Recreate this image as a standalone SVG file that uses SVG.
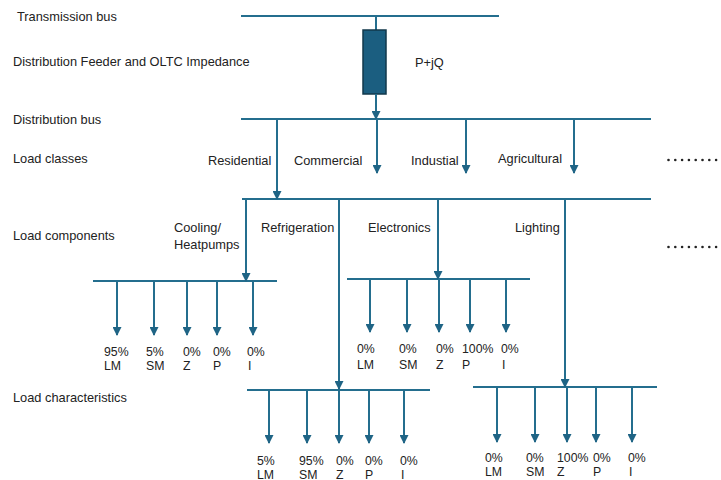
<svg xmlns="http://www.w3.org/2000/svg" width="721" height="480" viewBox="0 0 721 480">
<style>
text{font-family:"Liberation Sans",Arial,sans-serif;font-size:12.8px;fill:#222}
.v text{font-size:12.3px}
.bus{stroke:#246E8E;stroke-width:2;fill:none}
.ar{stroke:#246E8E;stroke-width:2;fill:none;marker-end:url(#arr)}
.dot{fill:#222}
</style>
<defs>
<marker id="arr" markerUnits="userSpaceOnUse" markerWidth="9" markerHeight="9" refX="8" refY="4.5" orient="auto">
<path d="M0,0 L9,4.5 L0,9 z" fill="#1F6485"/>
</marker>
</defs>
<rect width="721" height="480" fill="#fff"/>

<g id="labels-left">
<text x="17" y="20.5">Transmission bus</text>
<text x="13" y="66">Distribution Feeder and OLTC Impedance</text>
<text x="13" y="124">Distribution bus</text>
<text x="13" y="163">Load classes</text>
<text x="13" y="239.5">Load components</text>
<text x="13" y="401.5">Load characteristics</text>
</g>

<g id="transmission-bus">
<line class="bus" x1="241" y1="16" x2="499" y2="16"/>
</g>

<g id="feeder">
<line class="bus" x1="376" y1="16" x2="376" y2="30"/>
<rect x="363" y="30" width="23" height="64" fill="#1B5E80" stroke="#12384B" stroke-width="1.5"/>
<text x="415" y="66.5">P+jQ</text>
</g>

<g id="distribution-bus">
<line class="bus" x1="241" y1="119" x2="651" y2="119"/>
</g>

<g id="load-classes">
<text x="208" y="164.5">Residential</text>
<text x="294" y="164.5">Commercial</text>
<text x="411" y="164.5">Industial</text>
<text x="498" y="162.5">Agricultural</text>
</g>

<g id="load-components-bus">
<line class="bus" x1="242" y1="199" x2="651" y2="199"/>
<text x="174" y="232">Cooling/</text>
<text x="174" y="248.5">Heatpumps</text>
<text x="261" y="231.5">Refrigeration</text>
<text x="368" y="231.5">Electronics</text>
<text x="515" y="231.5">Lighting</text>
</g>

<g id="cooling" class="v">
<line class="bus" x1="93" y1="281" x2="277" y2="281"/>
<text x="104" y="355.5">95%</text><text x="104" y="370">LM</text>
<text x="146" y="355.5">5%</text><text x="146" y="370">SM</text>
<text x="183" y="355.5">0%</text><text x="183" y="370">Z</text>
<text x="213" y="355.5">0%</text><text x="213" y="370">P</text>
<text x="247" y="355.5">0%</text><text x="248" y="370">I</text>
</g>

<g id="electronics" class="v">
<line class="bus" x1="347" y1="279" x2="530" y2="279"/>
<text x="357" y="352.5">0%</text><text x="357" y="368.5">LM</text>
<text x="399" y="352.5">0%</text><text x="399" y="368.5">SM</text>
<text x="436" y="352.5">0%</text><text x="436" y="368.5">Z</text>
<text x="462" y="352.5">100%</text><text x="462" y="368.5">P</text>
<text x="501" y="352.5">0%</text><text x="502" y="368.5">I</text>
</g>

<g id="refrigeration" class="v">
<line class="bus" x1="247" y1="390" x2="430" y2="390"/>
<text x="257" y="464.5">5%</text><text x="257" y="478.5">LM</text>
<text x="299" y="464.5">95%</text><text x="299" y="478.5">SM</text>
<text x="336" y="464.5">0%</text><text x="336" y="478.5">Z</text>
<text x="365" y="464.5">0%</text><text x="365" y="478.5">P</text>
<text x="400" y="464.5">0%</text><text x="401" y="478.5">I</text>
</g>

<g id="lighting" class="v">
<line class="bus" x1="473" y1="387" x2="657" y2="387"/>
<text x="485" y="461.5">0%</text><text x="485" y="476">LM</text>
<text x="526" y="461.5">0%</text><text x="526" y="476">SM</text>
<text x="557" y="461.5">100%</text><text x="557" y="476">Z</text>
<text x="593" y="461.5">0%</text><text x="593" y="476">P</text>
<text x="628" y="461.5">0%</text><text x="629" y="476">I</text>
</g>

<g id="ellipsis">
<circle class="dot" cx="668.5" cy="160" r="1.3"/><circle class="dot" cx="675.3" cy="160" r="1.3"/><circle class="dot" cx="682.1" cy="160" r="1.3"/><circle class="dot" cx="688.9" cy="160" r="1.3"/><circle class="dot" cx="695.7" cy="160" r="1.3"/><circle class="dot" cx="702.5" cy="160" r="1.3"/><circle class="dot" cx="709.3" cy="160" r="1.3"/><circle class="dot" cx="716.1" cy="160" r="1.3"/>
<circle class="dot" cx="668.5" cy="247" r="1.3"/><circle class="dot" cx="675.3" cy="247" r="1.3"/><circle class="dot" cx="682.1" cy="247" r="1.3"/><circle class="dot" cx="688.9" cy="247" r="1.3"/><circle class="dot" cx="695.7" cy="247" r="1.3"/><circle class="dot" cx="702.5" cy="247" r="1.3"/><circle class="dot" cx="709.3" cy="247" r="1.3"/><circle class="dot" cx="716.1" cy="247" r="1.3"/>
</g>

<g id="connectors">
<line class="ar" x1="376" y1="94" x2="376" y2="119"/>
<line class="ar" x1="277" y1="119" x2="277" y2="199"/>
<line class="ar" x1="377" y1="119" x2="377" y2="173"/>
<line class="ar" x1="466" y1="119" x2="466" y2="173"/>
<line class="ar" x1="574" y1="119" x2="574" y2="173"/>
<line class="ar" x1="246" y1="199" x2="246" y2="281"/>
<line class="ar" x1="339" y1="199" x2="339" y2="389"/>
<line class="ar" x1="438" y1="199" x2="438" y2="279"/>
<line class="ar" x1="565" y1="199" x2="565" y2="387"/>
<line class="ar" x1="117" y1="281" x2="117" y2="335"/>
<line class="ar" x1="154" y1="281" x2="154" y2="335"/>
<line class="ar" x1="187" y1="281" x2="187" y2="335"/>
<line class="ar" x1="217" y1="281" x2="217" y2="335"/>
<line class="ar" x1="253" y1="281" x2="253" y2="335"/>
<line class="ar" x1="370" y1="279" x2="370" y2="332"/>
<line class="ar" x1="407" y1="279" x2="407" y2="332"/>
<line class="ar" x1="439" y1="279" x2="439" y2="332"/>
<line class="ar" x1="470" y1="279" x2="470" y2="332"/>
<line class="ar" x1="506" y1="279" x2="506" y2="332"/>
<line class="ar" x1="269" y1="390" x2="269" y2="443"/>
<line class="ar" x1="307" y1="390" x2="307" y2="443"/>
<line class="ar" x1="339" y1="390" x2="339" y2="443"/>
<line class="ar" x1="369" y1="390" x2="369" y2="443"/>
<line class="ar" x1="404" y1="390" x2="404" y2="443"/>
<line class="ar" x1="497" y1="387" x2="497" y2="442"/>
<line class="ar" x1="535" y1="387" x2="535" y2="442"/>
<line class="ar" x1="567" y1="387" x2="567" y2="442"/>
<line class="ar" x1="596" y1="387" x2="596" y2="442"/>
<line class="ar" x1="632" y1="387" x2="632" y2="442"/>
</g>
</svg>
